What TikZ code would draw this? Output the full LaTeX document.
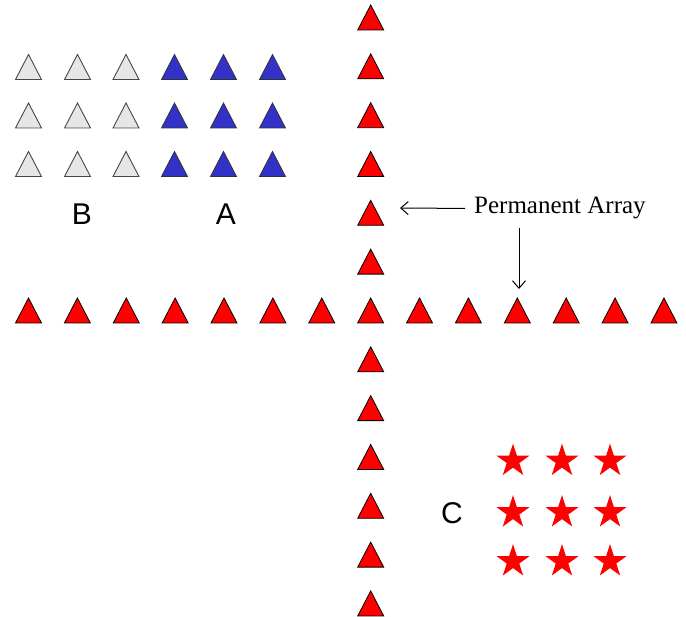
\documentclass[tikz,border=0pt]{standalone}
\usepackage{fontspec}
\setmainfont{Liberation Serif}
\setsansfont{Liberation Sans}
\usetikzlibrary{shapes.geometric,arrows.meta}
\definecolor{tred}{RGB}{255,0,0}
\definecolor{tblue}{RGB}{50,50,200}
\definecolor{tgray}{RGB}{230,230,230}
\definecolor{tgrayline}{RGB}{70,70,70}
\tikzset{
  slot/.style={inner sep=0pt, outer sep=0pt, minimum width=26pt, minimum height=25pt},
  redtri/.style={fill=tred, draw=black, line width=0.8pt, line join=miter},
  bluetri/.style={fill=tblue, draw=black!80, line width=0.8pt},
  graytri/.style={fill=tgray, draw=tgrayline, line width=0.9pt},
  starshape/.style={star, star points=5, star point ratio=2.618, minimum size=34.6pt, inner sep=0pt, fill=tred, draw=none},
  letter/.style={font=\sffamily\fontsize{30}{36}\selectfont, inner sep=0pt},
  lbltext/.style={font=\fontsize{25}{30}\selectfont, inner sep=0pt},
  arr/.style={-{Straight Barb[length=7.5pt,width=13pt,line width=1pt]}, line width=1pt}
}
\newcommand\mytri[3]{%
  \node[slot] (#1) at (#2) {};
  \filldraw[#3] (#1.south west) -- (#1.south east) -- (#1.north) -- cycle;}
\begin{document}
\begin{tikzpicture}[x=1pt,y=-1pt]
\useasboundingbox (0,0) rectangle (686,617);
% horizontal permanent row
\foreach \k in {0,...,13}{
  \pgfmathsetmacro\xx{28.5+48.88*\k}
  \mytri{h\k}{\xx,310.5}{redtri}
}
% vertical permanent column
\foreach \k in {0,...,5,7,8,...,12}{
  \pgfmathsetmacro\yy{17.5+48.83*\k}
  \mytri{v\k}{370.7,\yy}{redtri}
}
% group B (gray) and A (blue)
\foreach \r/\yy in {1/67,2/115.5,3/164}{
  \foreach \c/\xx in {1/28.5,2/77.5,3/126}{
    \mytri{b\r\c}{\xx,\yy}{graytri}
  }
  \foreach \c/\xx in {1/174.5,2/223.5,3/272.5}{
    \mytri{a\r\c}{\xx,\yy}{bluetri}
  }
}
\node[letter] (B) at (82,214) {B};
\node[letter] (A) at (226,214) {A};
% group C stars
\foreach \r/\yy in {1/461,2/512.5,3/561.5}{
  \foreach \c/\xx in {1/513,2/562,3/610}{
    \node[starshape] (s\r\c) at (\xx,\yy) {};
  }
}
\node[letter] (C) at (452,513) {C};
% label and arrows
\node[lbltext, anchor=base west] (lbl) at (474,214) {Permanent Array};
\coordinate (aL) at (400,208);
\coordinate (dS) at (519,228);
\coordinate (dE) at (519,289);
\draw[arr] ([xshift=-9pt]lbl.west) -- (aL);
\draw[arr] (dS) -- (dE);
\end{tikzpicture}
\end{document}
